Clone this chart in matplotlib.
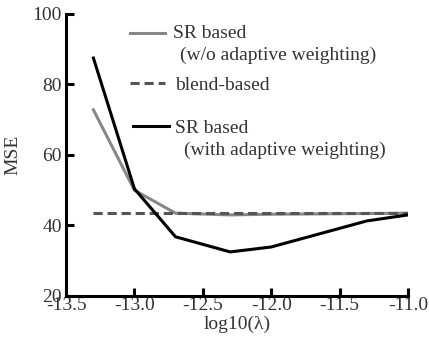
import matplotlib
matplotlib.use('Agg')
import matplotlib.pyplot as plt

# data
lam = [-13.3, -13.0, -12.7, -12.3, -12.0, -11.3, -11.0]
sr_without = [72.8, 50.0, 43.5, 43.0, 43.2, 43.4, 43.5]
sr_with = [87.5, 50.4, 36.8, 32.5, 33.9, 41.3, 43.0]
blend_x = [-13.3, -11.0]
blend = [43.6, 43.6]

plt.rcParams['font.family'] = ['Liberation Serif', 'DejaVu Serif']
txt = '#333333'
fs = 14

fig = plt.figure(figsize=(4.29, 3.41), dpi=100)
ax = fig.add_axes([0.154, 0.132, 0.797, 0.827])

ax.plot(lam, sr_without, color='#888888', linewidth=2.2, solid_joinstyle='miter')
ax.plot(blend_x, blend, color='#555555', linewidth=2.2, linestyle=(0, (3, 1.6)))
ax.plot(lam, sr_with, color='black', linewidth=2.2, solid_joinstyle='miter')

ax.set_xlim(-13.5, -11.0)
ax.set_ylim(20, 100)
ax.set_xticks([-13.5, -13.0, -12.5, -12.0, -11.5, -11.0])
ax.set_xticklabels(['-13.5', '-13.0', '-12.5', '-12.0', '-11.5', '-11.0'])
ax.set_yticks([20, 40, 60, 80, 100])

for s in ['top', 'right']:
    ax.spines[s].set_visible(False)
for s in ['left', 'bottom']:
    ax.spines[s].set_linewidth(2.2)
ax.tick_params(direction='in', length=6, width=2.2, labelsize=fs,
               labelcolor=txt)
ax.tick_params(axis='x', pad=1)
ax.tick_params(axis='y', pad=3)

ax.set_ylabel('MSE', fontsize=fs, color=txt, labelpad=8)
ax.set_xlabel('log10(λ)', fontsize=fs, color=txt, labelpad=1)

# hand-placed legend like the original
def leg(y, style, color, x0=-13.03, x1=-12.78):
    ax.plot([x0, x1], [y, y], color=color, linewidth=2.2, linestyle=style,
            clip_on=False)

leg(94.6, '-', '#888888')
ax.text(-12.72, 93.2, 'SR based', fontsize=fs, color=txt, va='baseline')
ax.text(-12.67, 86.9, '(w/o adaptive weighting)', fontsize=fs, color=txt, va='baseline')
leg(80.4, (0, (3, 1.6)), '#555555')
ax.text(-12.70, 78.4, 'blend-based', fontsize=fs, color=txt, va='baseline')
leg(68.2, '-', 'black', x0=-13.01, x1=-12.75)
ax.text(-12.70, 66.2, 'SR based', fontsize=fs, color=txt, va='baseline')
ax.text(-12.64, 60.0, '(with adaptive weighting)', fontsize=fs, color=txt, va='baseline')

fig.savefig('out.png', dpi=100)
